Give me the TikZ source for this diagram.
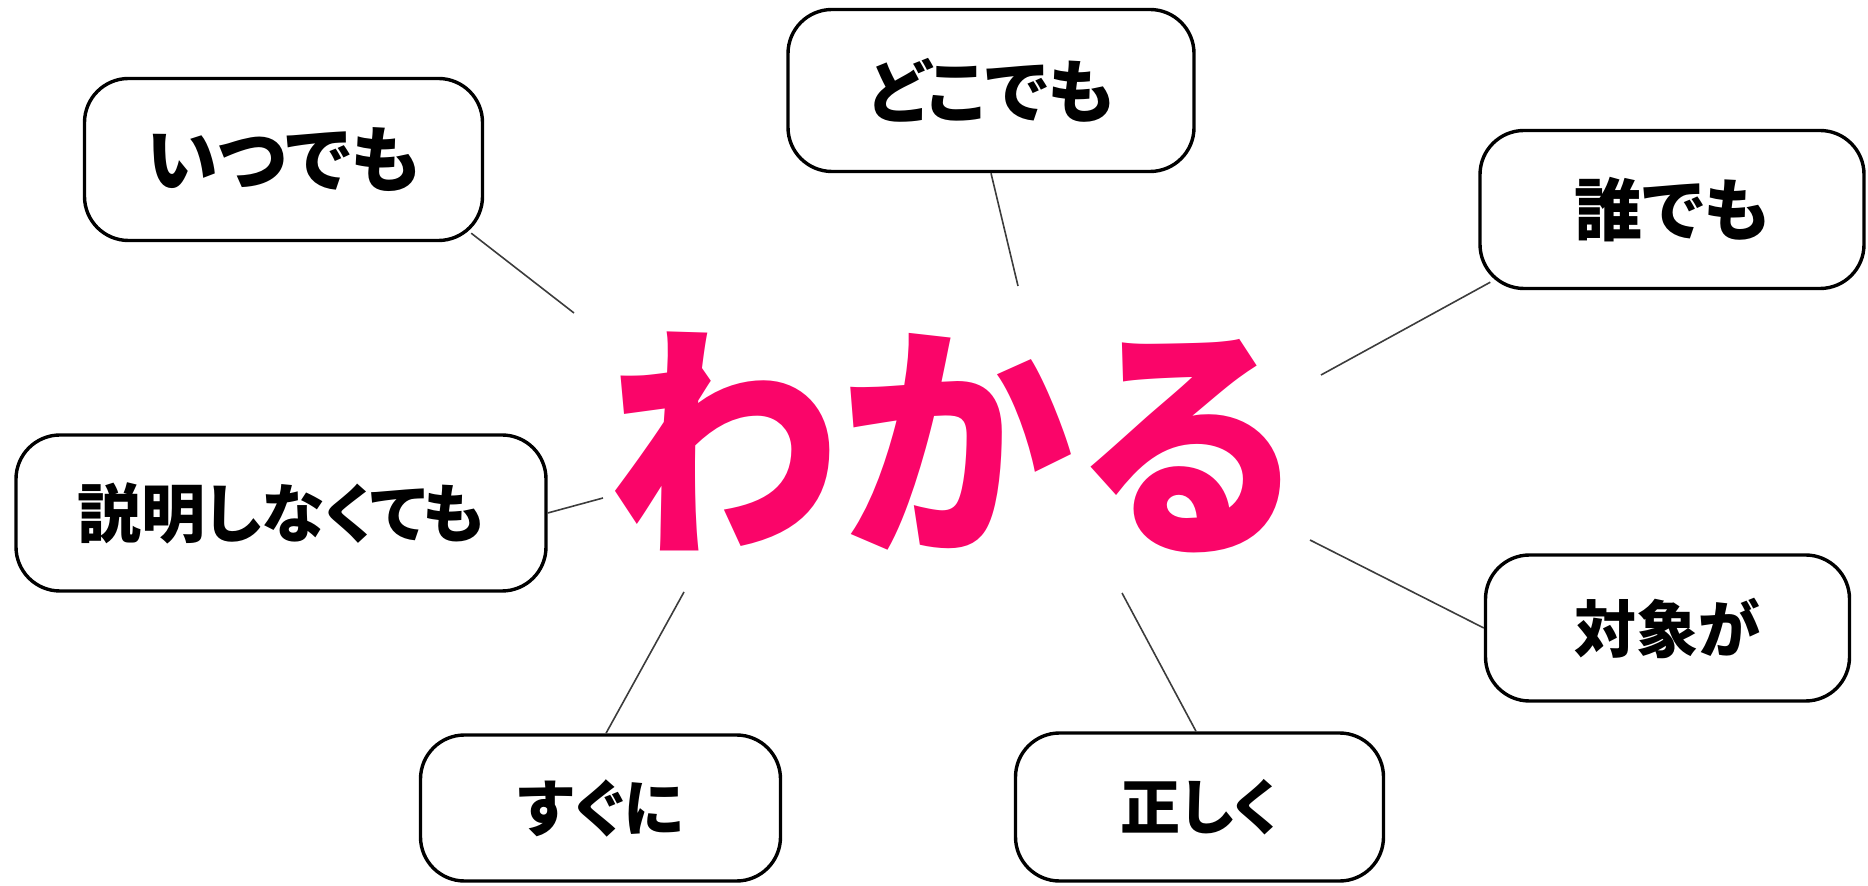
\documentclass[tikz,border=0pt]{standalone}
\usepackage{fontspec}
\newfontfamily\jp{Noto Sans CJK JP}[RawFeature=+palt]
\newfontfamily\jpbig{Noto Sans CJK JP}
\definecolor{wakapink}{RGB}{250,5,105}
\definecolor{linegray}{RGB}{60,60,60}
\tikzset{
  bubble/.style={draw=black, line width=1.7pt, rounded corners=22pt, fill=white,
    inner sep=0pt, font=\jp\bfseries},
  link/.style={draw=linegray, line width=0.8pt}
}
\begin{document}
\begin{tikzpicture}[x=0.5pt, y=-0.5pt]
\useasboundingbox (0,0) rectangle (1868,886);
% central word
\node[text=wakapink, font=\jpbig\bfseries\fontsize{120pt}{120pt}\selectfont, inner sep=0pt, yscale=1.04, xscale=0.97] (wakaru) at (957,442) {わかる};
% boxes
\node[bubble, minimum width=199pt, minimum height=81pt, font=\jp\bfseries\fontsize{36pt}{36pt}\selectfont] (itsu) at (283.5,159.5) {いつでも};
\node[bubble, minimum width=203pt, minimum height=81pt, font=\jp\bfseries\fontsize{34.5pt}{34.5pt}\selectfont] (doko) at (991,90.5) {どこでも};
\node[bubble, minimum width=192pt, minimum height=79pt, font=\jp\bfseries\fontsize{34pt}{34pt}\selectfont] (dare) at (1672,209.5) {誰でも};
\node[bubble, minimum width=265pt, minimum height=78pt, font=\jp\bfseries\fontsize{32pt}{32pt}\selectfont] (setsu) at (281,513) {説明しなくても};
\node[bubble, minimum width=182pt, minimum height=73pt, font=\jp\bfseries\fontsize{31pt}{31pt}\selectfont] (taisho) at (1667.5,628) {対象が};
\node[bubble, minimum width=180pt, minimum height=73pt, font=\jp\bfseries\fontsize{31pt}{31pt}\selectfont] (sugu) at (600.5,808) {すぐに};
\node[bubble, minimum width=184pt, minimum height=74pt, font=\jp\bfseries\fontsize{30pt}{30pt}\selectfont] (tada) at (1199.5,807) {正しく};
% free ends of connectors
\coordinate (e1) at (574,313);
\coordinate (e2) at (1018,286);
\coordinate (e3) at (1321,375);
\coordinate (e4) at (603,498);
\coordinate (e5) at (684,592);
\coordinate (e6) at (1122,593);
\coordinate (e7) at (1310,540);
% connectors
\draw[link] ([shift={(-13,-9)}]itsu.south east) -- (e1);
\draw[link] (doko.south) -- (e2);
\draw[link] ([shift={(12,-8)}]dare.south west) -- (e3);
\draw[link] (setsu.east) -- (e4);
\draw[link] ([shift={(5.5,0)}]sugu.north) -- (e5);
\draw[link] ([shift={(-3.5,0)}]tada.north) -- (e6);
\draw[link] (taisho.west) -- (e7);
\end{tikzpicture}
\end{document}
